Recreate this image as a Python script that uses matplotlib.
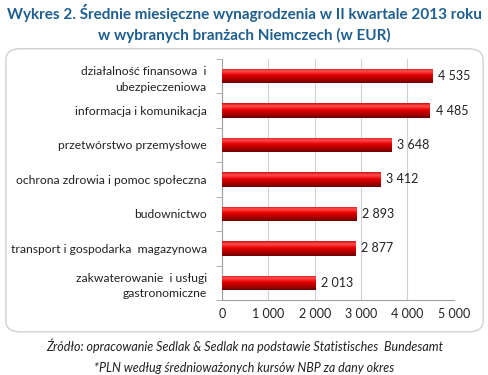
import numpy as np
import matplotlib.pyplot as plt
from matplotlib.patches import FancyBboxPatch
from matplotlib.colors import LinearSegmentedColormap

categories = [
    "działalność finansowa  i\nubezpieczeniowa",
    "informacja i komunikacja",
    "przetwórstwo przemysłowe",
    "ochrona zdrowia i pomoc społeczna",
    "budownictwo",
    "transport i gospodarka  magazynowa",
    "zakwaterowanie  i usługi\ngastronomiczne",
]
values = [4535, 4485, 3648, 3412, 2893, 2877, 2013]
xticks = [0, 1000, 2000, 3000, 4000, 5000]

plt.rcParams['font.family'] = ['Lato', 'DejaVu Sans']


def fmt(v):
    return f"{v:,}".replace(",", " ")


fig = plt.figure(figsize=(4.89, 3.75), dpi=100)

# rounded frame around the plot, kept behind the axes
frame = FancyBboxPatch((0.012, 0.115), 0.976, 0.755,
                       boxstyle="round,pad=0,rounding_size=0.03",
                       transform=fig.transFigure, facecolor="white",
                       edgecolor="#d0d0d0", linewidth=1.0, zorder=-5)
fig.patches.append(frame)

fig.text(0.5, 0.965, "Wykres 2. Średnie miesięczne wynagrodzenia w II kwartale 2013 roku",
         ha="center", va="center", fontsize=11, fontweight="bold", color="#1f5f8f")
fig.text(0.5, 0.905, "w wybranych branżach Niemczech (w EUR)",
         ha="center", va="center", fontsize=11, fontweight="bold", color="#1f5f8f")

ax = fig.add_axes([0.454, 0.2, 0.474, 0.643])
ax.patch.set_alpha(0)
y = np.arange(len(categories))
bars = ax.barh(y, values, height=0.42, color="#b00000", zorder=3)

# vertical gradient on each bar: bright highlight on top, dark red at bottom
grad = np.linspace(0, 1, 64).reshape(-1, 1)
cmap = LinearSegmentedColormap.from_list(
    "bar", [(0.0, "#d01010"), (0.2, "#ff5050"), (0.45, "#e80000"),
            (0.8, "#a00000"), (1.0, "#6a0000")])
for b in bars:
    x0, y0 = b.get_x(), b.get_y()
    w, h = b.get_width(), b.get_height()
    # y axis is inverted, so y0 is the visual top of the bar
    im = ax.imshow(grad, extent=[x0, x0 + w, y0 + h, y0], aspect="auto",
                   cmap=cmap, zorder=4, interpolation="bilinear")
    im.set_clip_path(b)

for yi, v in zip(y, values):
    ax.text(v + 130, yi, fmt(v), va="center", ha="left", fontsize=9, color="#222222")

ax.set_xlim(0, 5000)
ax.set_ylim(len(categories) - 0.5, -0.5)
ax.set_xticks(xticks)
ax.set_xticklabels([fmt(t) for t in xticks], fontsize=9, color="#222222")
ax.set_yticks(y)
ax.set_yticklabels(categories, fontsize=8.7, color="#222222", linespacing=1.5)
ax.set_yticks(np.arange(-0.5, len(categories)), minor=True)
ax.tick_params(axis="y", which="major", length=0, pad=11)
ax.tick_params(axis="y", which="minor", length=4, color="#a0a0a0")
ax.tick_params(axis="x", length=0, pad=6)
ax.grid(axis="x", color="#d0d0d0", linewidth=0.8, zorder=0)
for s in ["top", "right"]:
    ax.spines[s].set_visible(False)
ax.spines["left"].set_color("#a0a0a0")
ax.spines["bottom"].set_color("#a0a0a0")

fig.text(0.5, 0.077, "Źródło: opracowanie Sedlak & Sedlak na podstawie Statistisches  Bundesamt",
         ha="center", va="center", fontsize=9, style="italic", color="#222222")
fig.text(0.5, 0.018, "*PLN według średnioważonych kursów NBP za dany okres",
         ha="center", va="center", fontsize=9, style="italic", color="#222222")

plt.savefig("out.png", dpi=100)
plt.close()
